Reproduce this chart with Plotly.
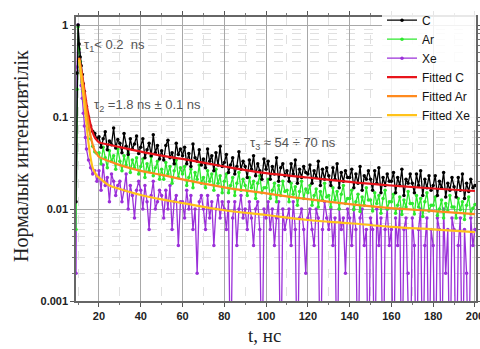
import plotly.graph_objects as go

# ---------------- data ----------------
t_early = [9, 9.5, 10, 10.5, 11, 11.5, 12, 12.5, 13, 13.5, 14, 15, 16, 17, 18, 19]
t_late = list(range(20, 201))
t_data = t_early + t_late

c_vals = [0.012, 0.3, 1.0, 0.62, 0.45, 0.36, 0.29, 0.23, 0.19, 0.15, 0.13, 0.10, 0.08, 0.07, 0.066, 0.058,
          0.061, 0.047, 0.058, 0.069, 0.044, 0.055, 0.050, 0.076, 0.046, 0.057,
          0.052, 0.041, 0.066, 0.048, 0.039, 0.058, 0.045, 0.051, 0.062, 0.040,
          0.047, 0.058, 0.036, 0.044, 0.052, 0.038, 0.064, 0.041, 0.049, 0.035,
          0.043, 0.034, 0.049, 0.056, 0.036, 0.041, 0.031, 0.052, 0.039, 0.045,
          0.038, 0.047, 0.031, 0.040, 0.029, 0.051, 0.036, 0.033, 0.044, 0.030,
          0.035, 0.028, 0.045, 0.033, 0.038, 0.026, 0.041, 0.030, 0.048, 0.029,
          0.032, 0.039, 0.025, 0.030, 0.036, 0.024, 0.029, 0.042, 0.027, 0.033,
          0.029, 0.022, 0.034, 0.027, 0.038, 0.023, 0.031, 0.026, 0.021, 0.035,
          0.027, 0.033, 0.021, 0.029, 0.024, 0.036, 0.020, 0.028, 0.031, 0.023,
          0.026, 0.020, 0.031, 0.024, 0.034, 0.019, 0.027, 0.022, 0.029, 0.025,
          0.024, 0.030, 0.019, 0.026, 0.022, 0.033, 0.018, 0.027, 0.021, 0.028,
          0.023, 0.018, 0.028, 0.021, 0.031, 0.017, 0.025, 0.020, 0.026, 0.022,
          0.022, 0.027, 0.017, 0.024, 0.019, 0.029, 0.016, 0.023, 0.021, 0.026,
          0.021, 0.016, 0.026, 0.019, 0.028, 0.015, 0.022, 0.018, 0.024, 0.020,
          0.020, 0.025, 0.015, 0.022, 0.018, 0.027, 0.014, 0.021, 0.019, 0.024,
          0.019, 0.015, 0.024, 0.018, 0.026, 0.014, 0.021, 0.017, 0.023, 0.016,
          0.018, 0.023, 0.014, 0.020, 0.017, 0.025, 0.0135, 0.019, 0.016, 0.022,
          0.0175, 0.0135, 0.022, 0.016, 0.024, 0.013, 0.019, 0.0155, 0.021, 0.017, 0.018]

ar_vals = [0.006, 0.2, 0.95, 0.55, 0.40, 0.30, 0.24, 0.19, 0.15, 0.12, 0.10, 0.075, 0.058, 0.048, 0.042, 0.040,
           0.041, 0.031, 0.047, 0.036, 0.028, 0.043, 0.033, 0.038, 0.027, 0.045,
           0.033, 0.026, 0.038, 0.030, 0.041, 0.025, 0.034, 0.028, 0.036, 0.024,
           0.029, 0.035, 0.022, 0.031, 0.026, 0.037, 0.023, 0.028, 0.033, 0.021,
           0.027, 0.021, 0.032, 0.024, 0.029, 0.019, 0.026, 0.034, 0.022, 0.028,
           0.024, 0.029, 0.018, 0.022, 0.027, 0.017, 0.025, 0.021, 0.030, 0.019,
           0.022, 0.017, 0.026, 0.020, 0.024, 0.016, 0.027, 0.019, 0.023, 0.015,
           0.020, 0.024, 0.015, 0.018, 0.022, 0.014, 0.019, 0.025, 0.016, 0.021,
           0.018, 0.014, 0.022, 0.017, 0.020, 0.013, 0.019, 0.023, 0.015, 0.017,
           0.017, 0.021, 0.013, 0.016, 0.019, 0.012, 0.018, 0.014, 0.020, 0.0155,
           0.016, 0.012, 0.019, 0.0145, 0.0175, 0.011, 0.0155, 0.020, 0.013, 0.0165,
           0.015, 0.018, 0.011, 0.014, 0.0165, 0.0105, 0.0155, 0.0125, 0.019, 0.0135,
           0.014, 0.0105, 0.017, 0.0125, 0.0155, 0.010, 0.0145, 0.018, 0.0115, 0.013,
           0.013, 0.016, 0.0098, 0.012, 0.0145, 0.0094, 0.0135, 0.011, 0.017, 0.0125,
           0.0125, 0.0095, 0.015, 0.0115, 0.014, 0.009, 0.013, 0.016, 0.010, 0.012,
           0.012, 0.0145, 0.009, 0.011, 0.0135, 0.0087, 0.0125, 0.0105, 0.0155, 0.0115,
           0.0115, 0.0088, 0.014, 0.0105, 0.013, 0.0083, 0.012, 0.015, 0.0095, 0.011,
           0.011, 0.0135, 0.0085, 0.010, 0.0125, 0.008, 0.0115, 0.0095, 0.014, 0.0105,
           0.0105, 0.008, 0.013, 0.0098, 0.012, 0.0077, 0.011, 0.0135, 0.0088, 0.0102, 0.0112]

# 0.0001 stands for zero-count channels (below the axis floor)
xe_vals = [0.002, 0.35, 1.0, 0.5, 0.32, 0.22, 0.16, 0.11, 0.08, 0.06, 0.045, 0.034, 0.028, 0.024, 0.026, 0.020,
           0.026, 0.016, 0.030, 0.018, 0.022, 0.012, 0.024, 0.020, 0.014, 0.018,
           0.020, 0.012, 0.016, 0.024, 0.010, 0.018, 0.014, 0.008, 0.016, 0.020,
           0.016, 0.010, 0.018, 0.012, 0.006, 0.014, 0.020, 0.010, 0.012, 0.016,
           0.014, 0.008, 0.016, 0.010, 0.018, 0.006, 0.012, 0.014, 0.004, 0.012,
           0.012, 0.008, 0.016, 0.010, 0.014, 0.006, 0.010, 0.002, 0.012, 0.014,
           0.010, 0.006, 0.014, 0.008, 0.012, 0.004, 0.010, 0.014, 0.008, 0.012,
           0.010, 0.006, 0.012, 0.0001, 0.008, 0.012, 0.004, 0.010, 0.014, 0.008,
           0.010, 0.006, 0.012, 0.008, 0.004, 0.010, 0.012, 0.006, 0.0001, 0.010,
           0.008, 0.012, 0.006, 0.010, 0.004, 0.008, 0.012, 0.0001, 0.010, 0.006,
           0.008, 0.010, 0.004, 0.012, 0.006, 0.0001, 0.008, 0.010, 0.006, 0.002,
           0.008, 0.010, 0.006, 0.004, 0.010, 0.008, 0.0001, 0.006, 0.012, 0.008,
           0.006, 0.010, 0.004, 0.008, 0.0001, 0.010, 0.006, 0.008, 0.002, 0.010,
           0.008, 0.004, 0.010, 0.006, 0.0001, 0.008, 0.010, 0.004, 0.006, 0.0001,
           0.008, 0.006, 0.0001, 0.010, 0.004, 0.008, 0.0001, 0.006, 0.010, 0.004,
           0.006, 0.0001, 0.008, 0.004, 0.010, 0.0001, 0.006, 0.008, 0.002, 0.0001,
           0.008, 0.004, 0.0001, 0.006, 0.010, 0.0001, 0.004, 0.008, 0.0001, 0.006,
           0.004, 0.0001, 0.008, 0.006, 0.0001, 0.010, 0.002, 0.006, 0.0001, 0.008,
           0.006, 0.0001, 0.004, 0.008, 0.0001, 0.006, 0.002, 0.0001, 0.008, 0.004, 0.006]

t_fit = [10.5, 12, 13, 14, 15, 16, 17, 18, 19, 20, 25, 30, 40, 50, 60, 80, 100, 120, 140, 160, 180, 200]
fit_c = [0.44, 0.28, 0.20, 0.14, 0.105, 0.082, 0.068, 0.060, 0.056, 0.053, 0.050, 0.047, 0.042, 0.038,
         0.035, 0.029, 0.0245, 0.022, 0.0197, 0.018, 0.0167, 0.0157]
fit_ar = [0.44, 0.26, 0.18, 0.12, 0.085, 0.062, 0.050, 0.043, 0.040, 0.037, 0.033, 0.030, 0.026, 0.0235,
          0.021, 0.0172, 0.0148, 0.0128, 0.0113, 0.0102, 0.0095, 0.0088]
fit_xe = [0.42, 0.22, 0.14, 0.085, 0.052, 0.036, 0.028, 0.025, 0.023, 0.022, 0.018, 0.0165, 0.0142, 0.0127,
          0.0116, 0.0097, 0.0086, 0.0076, 0.0070, 0.0064, 0.0060, 0.0056]

x_ticks = [20, 40, 60, 80, 100, 120, 140, 160, 180, 200]
x_minor = [10, 30, 50, 70, 90, 110, 130, 150, 170, 190]
y_ticks = [0.001, 0.01, 0.1, 1]
y_tick_text = ["0.001", "0.01", "0.1", "1"]
y_minor = [m * d for d in (0.001, 0.01, 0.1) for m in (2, 3, 4, 5, 6, 7, 8, 9)]

# ---------------- figure ----------------
fig = go.Figure()

fig.add_trace(go.Scatter(x=t_data, y=xe_vals, name="Xe", mode="lines+markers",
                         line=dict(color="#9b30d9", width=1.3), marker=dict(size=3.5, color="#9b30d9"),
                         legendrank=3))
fig.add_trace(go.Scatter(x=t_data, y=ar_vals, name="Ar", mode="lines+markers",
                         line=dict(color="#2ee82e", width=1.3), marker=dict(size=3.5, color="#2ee82e"),
                         legendrank=2))
fig.add_trace(go.Scatter(x=t_data, y=c_vals, name="C", mode="lines+markers",
                         line=dict(color="#000000", width=1.3), marker=dict(size=3.5, color="#000000"),
                         legendrank=1))
fig.add_trace(go.Scatter(x=t_fit, y=fit_c, name="Fitted C", mode="lines", line_shape="spline",
                         line=dict(color="#e8141b", width=2.2), legendrank=4))
fig.add_trace(go.Scatter(x=t_fit, y=fit_ar, name="Fitted Ar", mode="lines", line_shape="spline",
                         line=dict(color="#ff8a1e", width=2.2), legendrank=5))
fig.add_trace(go.Scatter(x=t_fit, y=fit_xe, name="Fitted Xe", mode="lines", line_shape="spline",
                         line=dict(color="#ffc21a", width=2.2), legendrank=6))

tick_font = dict(family="Liberation Sans, Arial", size=11, color="#222222", weight="bold")

fig.update_xaxes(range=[9, 200.5], tickmode="array", tickvals=x_ticks, ticks="outside", ticklen=4,
                 tickcolor="#555", automargin=False, ticklabeloverflow="allow",
                 showline=True, linecolor="#666", linewidth=1.5, mirror="ticks",
                 showgrid=True, gridcolor="#a8a8a8", gridwidth=1,
                 minor=dict(tickmode="array", tickvals=x_minor, showgrid=True, gridcolor="#e0e0e0",
                            griddash="dash", ticks="outside", ticklen=2, tickcolor="#777"),
                 tickfont=tick_font, zeroline=False)
fig.update_yaxes(type="log", range=[-3, 0.087], tickmode="array", tickvals=y_ticks, ticktext=y_tick_text,
                 ticks="outside", ticklen=4, tickcolor="#555", automargin=False,
                 showline=True, linecolor="#666", linewidth=1.5, mirror="ticks",
                 showgrid=True, gridcolor="#a8a8a8", gridwidth=1,
                 minor=dict(tickmode="array", tickvals=y_minor, showgrid=True, gridcolor="#e0e0e0",
                            griddash="dash", ticks="outside", ticklen=2, tickcolor="#777"),
                 tickfont=tick_font)

title_font = dict(family="Liberation Serif, Times New Roman", size=20, color="#222")
fig.add_annotation(xref="paper", yref="paper", x=-0.138, y=0.51, xanchor="center", yanchor="middle",
                   text="Нормалык интенсивтілік", textangle=-90, showarrow=False, font=title_font)
fig.add_annotation(xref="paper", yref="paper", x=0.47, y=-0.12, xanchor="center", yanchor="middle",
                   text="t, нс", showarrow=False,
                   font=dict(family="Liberation Serif, Times New Roman", size=19, color="#222"))

ann_font = dict(family="Liberation Sans, Arial", size=13, color="#555555")
fig.add_annotation(xref="paper", yref="paper", x=0.015, y=0.9, xanchor="left", yanchor="middle",
                   text="τ<sub>1</sub>< 0.2  ns", showarrow=False, font=ann_font)
fig.add_annotation(xref="paper", yref="paper", x=0.04, y=0.69, xanchor="left", yanchor="middle",
                   text="τ<sub>2</sub> =1.8 ns ± 0.1 ns", showarrow=False, font=ann_font)
fig.add_annotation(xref="paper", yref="paper", x=0.43, y=0.555, xanchor="left", yanchor="middle",
                   text="τ<sub>3</sub> ≈ 54 ÷ 70 ns", showarrow=False, font=ann_font)

fig.update_layout(
    width=480, height=349,
    margin=dict(l=76, r=4, t=17, b=48),
    paper_bgcolor="white", plot_bgcolor="white",
    showlegend=True,
    legend=dict(x=1, y=1.04, xanchor="right", yanchor="top", bgcolor="rgba(255,255,255,0.85)",
                font=dict(family="Liberation Sans, Arial", size=12, color="#111"),
                tracegroupgap=0, itemwidth=30, borderwidth=0),
)

fig.write_html("out.html", config={"displayModeBar": False},
               post_script="document.body.style.margin='0';")
